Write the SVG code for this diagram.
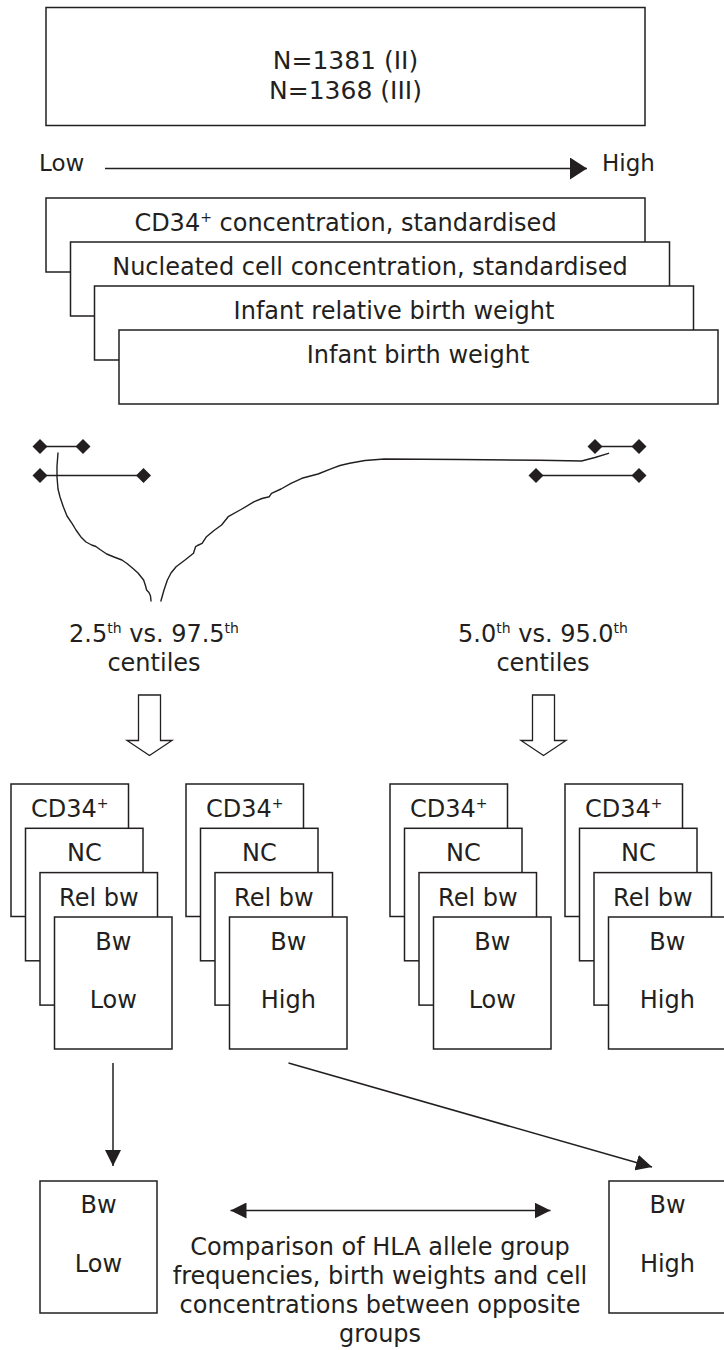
<svg xmlns="http://www.w3.org/2000/svg" width="724" height="1350" viewBox="0 0 724 1350">
<defs>
<style>
.box{fill:#fff;stroke:#231f20;stroke-width:1.5}
.t{font-family:"DejaVu Sans",Verdana,sans-serif;font-size:24px;fill:#231f20}
.big{font-size:25px}
.lh{font-size:23px}
.sup{font-size:14px}
.c{text-anchor:middle}
.ln{fill:none;stroke:#231f20;stroke-width:1.5}
.cv{fill:none;stroke:#231f20;stroke-width:1.4;stroke-linejoin:round;stroke-linecap:round}
.dm{fill:#231f20}
.hollow{fill:#fff;stroke:#231f20;stroke-width:1.3}
</style>
<marker id="arrBig" markerUnits="userSpaceOnUse" markerWidth="18" markerHeight="22" refX="17" refY="11" orient="auto">
<path d="M0,0 L17,11 L0,22 z" fill="#231f20"/>
</marker>
<marker id="arr" markerUnits="userSpaceOnUse" markerWidth="17" markerHeight="16" refX="16" refY="8" orient="auto-start-reverse">
<path d="M0,0 L16,8 L0,16 z" fill="#231f20"/>
</marker>
<path id="dia" d="M0,-7.5 L7.5,0 L0,7.5 L-7.5,0 z"/>
</defs>
<rect width="724" height="1350" fill="#fff"/>

<g id="sample-box">
<rect class="box" x="46" y="7.5" width="599" height="118"/>
<text class="t big c" x="345.5" y="69">N=1381 (II)</text>
<text class="t big c" x="345.5" y="99">N=1368 (III)</text>
</g>

<g id="scale-low-high">
<text class="t lh" x="39" y="171">Low</text>
<text class="t lh" x="602" y="171">High</text>
</g>

<g id="variables">
<g id="var-cd34">
<rect class="box" x="46" y="198" width="599" height="74"/>
<text class="t c" x="345.5" y="230.5">CD34<tspan class="sup" dy="-9">+</tspan><tspan dy="9"> concentration, standardised</tspan></text>
</g>
<g id="var-nc">
<rect class="box" x="70.5" y="242" width="599" height="74"/>
<text class="t c" x="370" y="275">Nucleated cell concentration, standardised</text>
</g>
<g id="var-relbw">
<rect class="box" x="94.5" y="286" width="599" height="74"/>
<text class="t c" x="394" y="319">Infant relative birth weight</text>
</g>
<g id="var-bw">
<rect class="box" x="119" y="330" width="599" height="74"/>
<text class="t c" x="418" y="363">Infant birth weight</text>
</g>
</g>

<g id="range-left">
<line class="ln" x1="40" y1="446.5" x2="83" y2="446.5"/>
<line class="ln" x1="40" y1="475.5" x2="143.5" y2="475.5"/>
<use href="#dia" class="dm" x="40" y="446.5"/>
<use href="#dia" class="dm" x="83" y="446.5"/>
<use href="#dia" class="dm" x="40" y="475.5"/>
<use href="#dia" class="dm" x="143.5" y="475.5"/>
</g>
<g id="range-right">
<line class="ln" x1="595" y1="446.5" x2="639" y2="446.5"/>
<line class="ln" x1="536" y1="475.5" x2="639" y2="475.5"/>
<use href="#dia" class="dm" x="595" y="446.5"/>
<use href="#dia" class="dm" x="639" y="446.5"/>
<use href="#dia" class="dm" x="536" y="475.5"/>
<use href="#dia" class="dm" x="639" y="475.5"/>
</g>

<g id="centile-2-5">
<text class="t c" x="154" y="642">2.5<tspan class="sup" dy="-9">th</tspan><tspan dy="9"> vs. 97.5</tspan><tspan class="sup" dy="-9">th</tspan></text>
<text class="t c" x="154" y="671">centiles</text>
</g>
<g id="centile-5-0">
<text class="t c" x="543" y="642">5.0<tspan class="sup" dy="-9">th</tspan><tspan dy="9"> vs. 95.0</tspan><tspan class="sup" dy="-9">th</tspan></text>
<text class="t c" x="543" y="671">centiles</text>
</g>

<g id="group-low-2-5">
<rect class="box" x="11" y="784" width="117.5" height="132.5"/>
<rect class="box" x="25.5" y="828.3" width="117.5" height="132.5"/>
<rect class="box" x="40" y="872.6" width="117.5" height="132.5"/>
<rect class="box" x="54.5" y="917" width="117.5" height="132"/>
<text class="t c" x="69.8" y="817">CD34<tspan class="sup" dy="-9">+</tspan></text>
<text class="t c" x="84.3" y="861">NC</text>
<text class="t c" x="98.8" y="905.5">Rel bw</text>
<text class="t c" x="113.3" y="950">Bw</text>
<text class="t c" x="113.3" y="1008">Low</text>
</g>
<g id="group-high-2-5">
<rect class="box" x="186" y="784" width="117.5" height="132.5"/>
<rect class="box" x="200.5" y="828.3" width="117.5" height="132.5"/>
<rect class="box" x="215" y="872.6" width="117.5" height="132.5"/>
<rect class="box" x="229.5" y="917" width="117.5" height="132"/>
<text class="t c" x="244.8" y="817">CD34<tspan class="sup" dy="-9">+</tspan></text>
<text class="t c" x="259.3" y="861">NC</text>
<text class="t c" x="273.8" y="905.5">Rel bw</text>
<text class="t c" x="288.3" y="950">Bw</text>
<text class="t c" x="288.3" y="1008">High</text>
</g>
<g id="group-low-5-0">
<rect class="box" x="390" y="784" width="117.5" height="132.5"/>
<rect class="box" x="404.5" y="828.3" width="117.5" height="132.5"/>
<rect class="box" x="419" y="872.6" width="117.5" height="132.5"/>
<rect class="box" x="433.5" y="917" width="117.5" height="132"/>
<text class="t c" x="448.8" y="817">CD34<tspan class="sup" dy="-9">+</tspan></text>
<text class="t c" x="463.3" y="861">NC</text>
<text class="t c" x="477.8" y="905.5">Rel bw</text>
<text class="t c" x="492.3" y="950">Bw</text>
<text class="t c" x="492.3" y="1008">Low</text>
</g>
<g id="group-high-5-0">
<rect class="box" x="565" y="784" width="117.5" height="132.5"/>
<rect class="box" x="579.5" y="828.3" width="117.5" height="132.5"/>
<rect class="box" x="594" y="872.6" width="117.5" height="132.5"/>
<rect class="box" x="608.5" y="917" width="117.5" height="132"/>
<text class="t c" x="623.8" y="817">CD34<tspan class="sup" dy="-9">+</tspan></text>
<text class="t c" x="638.3" y="861">NC</text>
<text class="t c" x="652.8" y="905.5">Rel bw</text>
<text class="t c" x="667.3" y="950">Bw</text>
<text class="t c" x="667.3" y="1008">High</text>
</g>

<g id="result-low">
<rect class="box" x="40" y="1181" width="117" height="132"/>
<text class="t c" x="98.5" y="1213">Bw</text>
<text class="t c" x="98.5" y="1272">Low</text>
</g>
<g id="result-high">
<rect class="box" x="609" y="1181" width="117" height="132"/>
<text class="t c" x="667.5" y="1213">Bw</text>
<text class="t c" x="667.5" y="1272">High</text>
</g>

<g id="comparison-label">
<text class="t c" x="380" y="1255">Comparison of HLA allele group</text>
<text class="t c" x="380" y="1284">frequencies, birth weights and cell</text>
<text class="t c" x="380" y="1313">concentrations between opposite</text>
<text class="t c" x="380" y="1342">groups</text>
</g>

<g id="connectors">
<line class="ln" x1="105" y1="168.5" x2="587" y2="168.5" marker-end="url(#arrBig)"/>
<path class="cv" d="M58,453 L57,466 L57,477 L58,489 L60,497 L63.4,507 L67,516 L72,523.3 L76,530 L80.7,536.7 L86,542 L91.6,545 L95.9,546.5 L100,549.5 L106.7,554 L114,557 L121.9,560 L127,563.5 L132.7,568.3 L138,573 L143.6,580 L145.6,586 L146.6,590 L149,592.5 L150.5,596 L151,601"/>
<path class="cv" d="M608.5,453.3 L595,457.5 L581.6,461 L540,460.3 L460,459.5 L384.3,459 L365,460.5 L349.6,463.3 L340,465.5 L332.2,468.3 L318,474 L301.9,478.3 L291,483.3 L281,489 L271.5,493.3 L269.3,496.7 L262,498.5 L254.2,501.7 L241,509.5 L228.2,516.7 L221.6,525 L214,530.5 L206.5,536.7 L202.1,543.3 L197.5,545.5 L195.6,546.7 L194.5,550 L193.5,553.3 L185,560 L176.1,566.7 L171,573 L167.4,580 L164,590 L160.9,601"/>
<path class="hollow" d="M138.5,695 L160.5,695 L160.5,740.5 L172,740.5 L149.5,755.5 L127,740.5 L138.5,740.5 z"/>
<path class="hollow" d="M532.5,695 L554.5,695 L554.5,740.5 L566,740.5 L543.5,755.5 L521,740.5 L532.5,740.5 z"/>
<line class="ln" x1="113" y1="1063" x2="113" y2="1166" marker-end="url(#arr)"/>
<line class="ln" x1="288.5" y1="1063" x2="652" y2="1167" marker-end="url(#arr)"/>
<line class="ln" x1="230.5" y1="1210.5" x2="550.5" y2="1210.5" marker-start="url(#arr)" marker-end="url(#arr)"/>
</g>
</svg>
